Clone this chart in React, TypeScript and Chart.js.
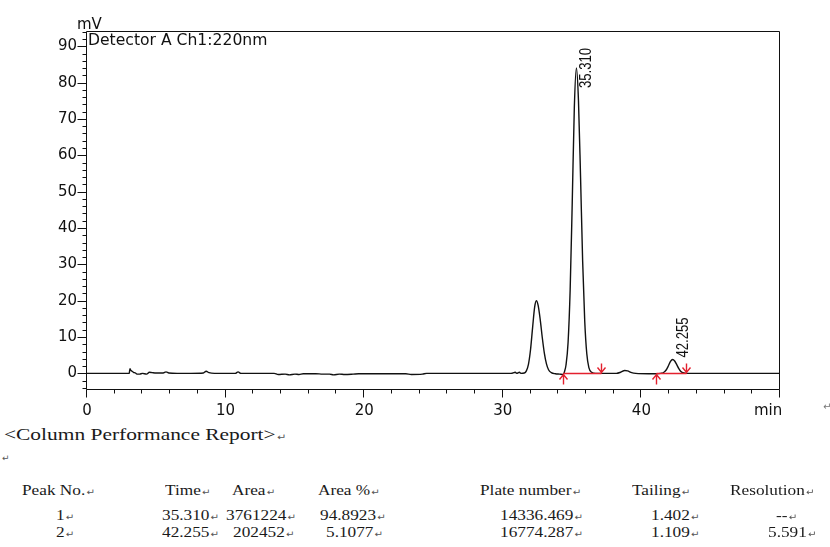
import React, { useEffect, useRef } from 'react';
import { Chart, registerables } from 'chart.js';

Chart.register(...registerables);

// Chromatogram trace: retention time (min) and detector signal (mV)
const retentionTimes = [
  0, 1, 2, 3.0, 3.05, 3.1, 3.15, 3.25, 3.35, 3.5, 3.6, 3.8, 4.0, 4.3, 4.5, 4.7, 5.0, 5.5, 5.7, 5.9,
  6.5, 7.5, 8.4, 8.6, 8.8, 9.2, 10.7, 10.9, 11.1, 13.5, 13.8, 14.3, 14.6, 15.0, 15.3, 15.6, 16.5,
  17.0, 17.5, 17.8, 18.2, 18.6, 19.2, 19.6, 21.0, 23.0, 23.4, 24.2, 24.5, 27.0, 30.6, 30.9, 31.0,
  31.2, 31.3, 31.55, 31.7, 31.85, 32.0, 32.15, 32.3, 32.42, 32.55, 32.7, 32.85, 33.0, 33.15, 33.3,
  33.5, 33.8, 34.1, 34.35, 34.46, 34.56, 34.71, 34.86, 35.01, 35.16, 35.31, 35.46, 35.61, 35.76,
  35.91, 36.06, 36.21, 36.41, 36.7, 37.1, 37.5, 38.2, 38.5, 38.8, 39.0, 39.3, 39.6, 40.5, 41.05,
  41.4, 41.6, 41.8, 41.95, 42.1, 42.255, 42.4, 42.55, 42.7, 42.85, 43.0, 43.3, 45.0, 50.0,
];
const signalMv = [
  0, 0, 0, 0, 0.1, 1.3, 0.9, 0.6, 0.3, 0.1, -0.2, -0.2, 0, -0.2, 0.3, 0.2, 0.1, 0.1, 0.4, 0.1,
  0, 0, 0.1, 0.6, 0.2, 0, 0, 0.4, 0, 0, -0.3, -0.2, -0.4, -0.2, -0.3, -0.1, -0.1,
  -0.2, -0.2, -0.4, -0.2, -0.3, -0.2, -0.1, -0.1, -0.1, -0.3, -0.2, 0, 0, 0, 0.3, 0,
  0.3, 0, 0.1, 0.7, 2.5, 6.5, 12.6, 18.3, 20.0, 18.7, 14.8, 9.8, 5.5, 2.6, 1.0,
  0.2, -0.1, -0.2, -0.3, 0.6, 2.3, 8.5, 23, 47, 73, 84, 75, 54, 31,
  14.5, 5.4, 1.6, 0.3, 0, 0, 0, 0, 0.3, 0.8, 0.7, 0.2, 0, -0.1, -0.1,
  0, 0.25, 1.0, 2.1, 3.3, 3.8, 3.4, 2.4, 1.3, 0.5, 0.2, 0, 0, 0,
];

// Integrated peaks: labels (retention time) and baseline start / end markers
const peakLabels = ['35.310', '42.255'];
const baselineStarts = [34.35, 41.05];
const baselineEnds = [37.1, 43.25];

// Axes
const xRange = [0, 50];
const yRange = [-4.3, 94.2];
const xLabelTicks = [0, 10, 20, 30, 40];
const yLabelTicks = [0, 10, 20, 30, 40, 50, 60, 70, 80, 90];
const minorStep = 2;

// Column performance report
const tableHeaders = ['Peak No.', 'Time', 'Area', 'Area %', 'Plate number', 'Tailing', 'Resolution'];
const peakNumbers = ['1', '2'];
const peakTimes = ['35.310', '42.255'];
const peakAreas = ['3761224', '202452'];
const areaPercents = ['94.8923', '5.1077'];
const plateNumbers = ['14336.469', '16774.287'];
const tailingFactors = ['1.402', '1.109'];
const resolutions = ['--', '5.591'];

const AXIS_FONT = '"DejaVu Sans", sans-serif';

function minorValues(min: number, max: number) {
  const out: number[] = [];
  const start = Math.ceil(min / minorStep) * minorStep;
  for (let v = start; v <= max + 1e-9; v += minorStep) out.push(Math.round(v * 100) / 100);
  return out;
}

const overlayPlugin = {
  id: 'chromOverlay',
  afterDatasetsDraw(chart: any) {
    const { ctx, chartArea: a, scales } = chart;
    const xs = scales.x;
    const ys = scales.y;
    ctx.save();

    // frame
    ctx.strokeStyle = '#111';
    ctx.lineWidth = 1;
    const L = Math.round(a.left) - 0.5;
    const R = Math.round(a.right) - 0.5;
    const T = Math.round(a.top) + 0.5;
    const B = Math.round(a.bottom) + 0.5;
    ctx.beginPath();
    ctx.moveTo(L, T); ctx.lineTo(R, T); ctx.lineTo(R, B); ctx.lineTo(L, B); ctx.closePath();
    ctx.stroke();

    // y tick marks
    ctx.beginPath();
    for (const v of minorValues(yRange[0], yRange[1])) {
      const py = Math.round(ys.getPixelForValue(v)) + 0.5;
      const len = yLabelTicks.includes(v) ? 9 : 4;
      ctx.moveTo(L - len, py); ctx.lineTo(L, py);
    }
    // x tick marks
    for (const v of minorValues(xRange[0], xRange[1])) {
      const px = Math.round(xs.getPixelForValue(v)) - 0.5;
      const len = v % 10 === 0 ? 8 : 4;
      ctx.moveTo(px, B); ctx.lineTo(px, B + len);
    }
    ctx.stroke();

    // axis titles
    ctx.fillStyle = '#111';
    ctx.font = `15px ${AXIS_FONT}`;
    ctx.textAlign = 'left';
    ctx.textBaseline = 'alphabetic';
    ctx.fillText('mV', 77, 29);
    ctx.save();
    ctx.translate(88, 44.5);
    ctx.scale(1.04, 1);
    ctx.fillText('Detector A Ch1:220nm', 0, 0);
    ctx.restore();
    ctx.fillText('min', 754, 415);

    // integration baselines with start / end arrows
    const y0 = Math.round(ys.getPixelForValue(0)) + 0.5;
    ctx.strokeStyle = '#e3202e';
    ctx.lineWidth = 1.4;
    baselineStarts.forEach((s, i) => {
      const x0 = Math.round(xs.getPixelForValue(s)) + 0.5;
      const x1 = Math.round(xs.getPixelForValue(baselineEnds[i])) + 0.5;
      ctx.beginPath();
      ctx.moveTo(x0, y0); ctx.lineTo(x1, y0);
      ctx.moveTo(x0, y0); ctx.lineTo(x0, y0 + 11);
      ctx.moveTo(x0 - 4, y0 + 6); ctx.lineTo(x0, y0 + 1); ctx.lineTo(x0 + 4, y0 + 6);
      ctx.moveTo(x1, y0); ctx.lineTo(x1, y0 - 10);
      ctx.moveTo(x1 - 4, y0 - 6); ctx.lineTo(x1, y0 - 1); ctx.lineTo(x1 + 4, y0 - 6);
      ctx.stroke();
    });

    // peak retention-time labels, rotated
    ctx.fillStyle = '#111';
    ctx.font = '16px "Liberation Sans", Arial, sans-serif';
    peakLabels.forEach((label) => {
      const t = parseFloat(label);
      let best = 0;
      retentionTimes.forEach((rt, j) => {
        if (Math.abs(rt - t) < 0.3 && signalMv[j] > best) best = signalMv[j];
      });
      const px = xs.getPixelForValue(t);
      const py = ys.getPixelForValue(best);
      const bottom = Math.max(py - 2, a.top + 57);
      ctx.save();
      ctx.translate(px + 15, bottom);
      ctx.rotate(-Math.PI / 2);
      ctx.scale(0.82, 1);
      ctx.fillText(label, 0, 0);
      ctx.restore();
    });

    ctx.restore();
  },
};

function ChromatogramChart() {
  const ref = useRef<HTMLCanvasElement | null>(null);
  useEffect(() => {
    if (!ref.current) return;
    const points = retentionTimes.map((t, i) => ({ x: t, y: signalMv[i] }));
    const chart = new Chart(ref.current, {
      type: 'line',
      data: {
        datasets: [
          {
            data: points,
            borderColor: '#111',
            borderWidth: 1.4,
            pointRadius: 0,
            cubicInterpolationMode: 'monotone',
            fill: false,
          },
        ],
      },
      options: {
        animation: false,
        responsive: false,
        devicePixelRatio: 1,
        events: [],
        layout: { padding: { top: 31, right: 50, bottom: 0, left: 0 } },
        plugins: { legend: { display: false }, tooltip: { enabled: false } },
        scales: {
          x: {
            type: 'linear',
            min: xRange[0],
            max: xRange[1],
            grid: { display: false, drawTicks: false },
            border: { display: false },
            afterBuildTicks: (s: any) => {
              s.ticks = xLabelTicks.map((v) => ({ value: v }));
            },
            afterFit: (s: any) => {
              s.height = 36;
            },
            ticks: {
              autoSkip: false,
              maxRotation: 0,
              padding: 13,
              color: '#111',
              font: { family: AXIS_FONT, size: 15 },
              callback: (v: any) => String(v),
            },
          },
          y: {
            type: 'linear',
            min: yRange[0],
            max: yRange[1],
            grid: { display: false, drawTicks: false },
            border: { display: false },
            afterBuildTicks: (s: any) => {
              s.ticks = yLabelTicks.map((v) => ({ value: v }));
            },
            afterFit: (s: any) => {
              s.width = 87;
            },
            ticks: {
              autoSkip: false,
              padding: 10,
              color: '#111',
              font: { family: AXIS_FONT, size: 15 },
              callback: (v: any) => String(v),
            },
          },
        },
      },
      plugins: [overlayPlugin],
    } as any);
    return () => chart.destroy();
  }, []);
  return (
    <canvas
      ref={ref}
      width={830}
      height={425}
      style={{ position: 'absolute', left: 0, top: 0, width: 830, height: 425 }}
    />
  );
}

const SERIF = '"Liberation Serif", "Times New Roman", serif';

function Mark() {
  return (
    <span style={{ fontFamily: AXIS_FONT, fontSize: 9, color: '#555', marginLeft: 1 }}>↵</span>
  );
}

function Cell({
  x,
  baseline,
  text,
  size = 15,
  stretch = 1.15,
}: {
  x: number;
  baseline: number;
  text: string;
  size?: number;
  stretch?: number;
}) {
  return (
    <span
      style={{
        position: 'absolute',
        left: x,
        top: baseline - size * 0.84,
        font: `${size}px ${SERIF}`,
        lineHeight: `${size}px`,
        whiteSpace: 'nowrap',
        color: '#1a1a1a',
        transform: `scaleX(${stretch})`,
        transformOrigin: 'left top',
      }}
    >
      {text}
      <Mark />
    </span>
  );
}

const headerX = [22, 165, 232, 318, 480, 632, 730];
const row1X = [56, 162, 226, 320, 500, 651, 776];
const row2X = [56, 162, 233, 326, 500, 651, 768];

export default function App() {
  const rows = [0, 1].map((i) => [
    peakNumbers[i],
    peakTimes[i],
    peakAreas[i],
    areaPercents[i],
    plateNumbers[i],
    tailingFactors[i],
    resolutions[i],
  ]);
  return (
    <div
      style={{
        position: 'fixed',
        left: 0,
        top: 0,
        width: 830,
        height: 547,
        background: '#fff',
        overflow: 'hidden',
      }}
    >
      <ChromatogramChart />
      <span
        style={{ position: 'absolute', left: 823, top: 401, fontFamily: AXIS_FONT, fontSize: 10, color: '#777' }}
      >
        ↵
      </span>
      <Cell x={4} baseline={440} text="<Column Performance Report>" size={17} stretch={1.26} />
      <span style={{ position: 'absolute', left: 2, top: 453, fontFamily: AXIS_FONT, fontSize: 9, color: '#555' }}>↵</span>
      {tableHeaders.map((h, j) => (
        <Cell key={'h' + j} x={headerX[j]} baseline={496} text={h} />
      ))}
      {rows[0].map((v, j) => (
        <Cell key={'a' + j} x={row1X[j]} baseline={521} text={v} />
      ))}
      {rows[1].map((v, j) => (
        <Cell key={'b' + j} x={row2X[j]} baseline={538} text={v} />
      ))}
    </div>
  );
}
